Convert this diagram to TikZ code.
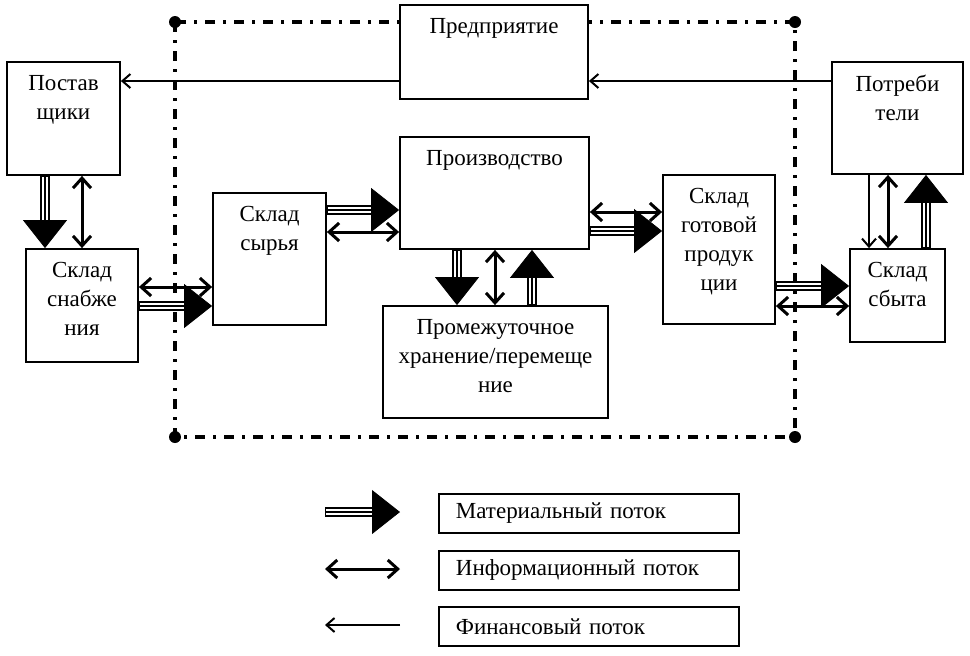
\documentclass[tikz,border=0pt]{standalone}
\usepackage{fontspec}
\setmainfont{Liberation Serif}
\usetikzlibrary{arrows.meta,fit,positioning}

\begin{document}
\begin{tikzpicture}[
    x=0.5pt, y=-0.5pt,
    % --- стили ---
    box_style/.style={draw, line width=0.9pt, fill=white, inner sep=0},
    text_style/.style={align=center, inner sep=0, font=\fontsize{11.5}{14.5}\selectfont},
    frame_style/.style={line width=2pt, dash pattern=on 5pt off 4pt on 1.5pt off 4pt},
    fin_style/.style={line width=1pt, -{Straight Barb[length=4pt,width=7pt]}},
    info_style/.style={line width=1.5pt, {Straight Barb[length=5pt,width=9pt]}-{Straight Barb[length=5pt,width=9pt]}},
    legend_style/.style={draw, line width=0.9pt, anchor=north west, minimum width=150pt, minimum height=19.5pt,
        text width=133pt, inner xsep=8.5pt, inner ysep=0, align=left, font=\fontsize{11.5}{14.5}\selectfont}
]
    \useasboundingbox (0,0) rectangle (970,655);

    % --- макросы ---
    % блок: имя, левый верхний угол, правый нижний угол, текст
    \newcommand{\blk}[6]{
        \node[box_style, fit={(#2,#3) (#4,#5)}] (#1) {};
        \node[text_style, anchor=north] (#1_t) at ([yshift=-7pt]#1.north) {#6};
    }
    % материальный поток (тройная линия + треугольник)
    \newcommand{\mflow}[2]{
        \draw[line width=5pt, shorten >=13pt] (#1) -- (#2);
        \draw[line width=2.6pt, white, shorten >=13pt, shorten <=0.5pt] (#1) -- (#2);
        \draw[line width=1.2pt, shorten >=13pt] (#1) -- (#2);
        \draw[line width=0.4pt, -{Triangle[length=14pt,width=22pt]}] (#1) -- (#2);
    }

    % --- граница предприятия ---
    \draw[frame_style] (175,22) rectangle (795,437);
    \foreach \p in {(175,22),(795,22),(175,437),(795,437)}
        \fill \p circle (3pt);

    % --- блоки ---
    \blk{ent}{400}{5}{588}{99}{Предприятие}
    \blk{sup}{7}{62}{120}{175}{Постав\\щики}
    \blk{cons}{832}{62}{963}{174}{Потреби\\тели}
    \blk{snab}{26}{249}{138}{362}{Склад\\снабже\\ния}
    \blk{syr}{213}{193}{326}{325}{Склад\\сырья}
    \blk{prod}{400}{137}{589}{249}{Производство}
    \blk{inter}{383}{306}{608}{418}{Промежуточное\\хранение/перемеще\\ние}
    \blk{gp}{663}{175}{775}{324}{Склад\\готовой\\продук\\ции}
    \blk{sbyt}{850}{249}{945}{342}{Склад\\сбыта}

    % --- финансовые потоки ---
    \draw[fin_style] (ent.west |- 0,81) -- (sup.east |- 0,81);
    \draw[fin_style] (cons.west |- 0,81) -- (ent.east |- 0,81);
    \draw[fin_style] (869,0 |- cons.south) -- (869,0 |- sbyt.north);

    % --- информационные потоки ---
    \draw[info_style] (82,0 |- sup.south) -- (82,0 |- snab.north);
    \draw[info_style] (snab.east |- 0,287) -- (syr.west |- 0,287);
    \draw[info_style] (syr.east |- 0,232) -- (prod.west |- 0,232);
    \draw[info_style] (495,0 |- prod.south) -- (495,0 |- inter.north);
    \draw[info_style] (prod.east |- 0,212) -- (gp.west |- 0,212);
    \draw[info_style] (gp.east |- 0,306) -- (sbyt.west |- 0,306);
    \draw[info_style] (888,0 |- cons.south) -- (888,0 |- sbyt.north);

    % --- материальные потоки ---
    \mflow{45,0 |- sup.south}{45,0 |- snab.north}
    \mflow{snab.east |- 0,306}{syr.west |- 0,306}
    \mflow{syr.east |- 0,210}{prod.west |- 0,210}
    \mflow{457,0 |- prod.south}{457,0 |- inter.north}
    \mflow{532,0 |- inter.north}{532,0 |- prod.south}
    \mflow{prod.east |- 0,231}{gp.west |- 0,231}
    \mflow{gp.east |- 0,286}{sbyt.west |- 0,286}
    \mflow{926,0 |- sbyt.north}{926,0 |- cons.south}

    % --- легенда ---
    \node[legend_style] (leg_mat) at (438,493) {Материальный поток};
    \node[legend_style] (leg_inf) at (438,550) {Информационный поток};
    \node[legend_style] (leg_fin) at (438,606) {Финансовый поток};

    \coordinate (lm_a) at (325,512);
    \coordinate (lm_b) at (400,512);
    \coordinate (li_a) at (325,569);
    \coordinate (li_b) at (400,569);
    \coordinate (lf_a) at (325,625);
    \coordinate (lf_b) at (400,625);

    \mflow{lm_a}{lm_b}
    \draw[info_style] (li_a) -- (li_b);
    \draw[fin_style] (lf_b) -- (lf_a);

\end{tikzpicture}
\end{document}
